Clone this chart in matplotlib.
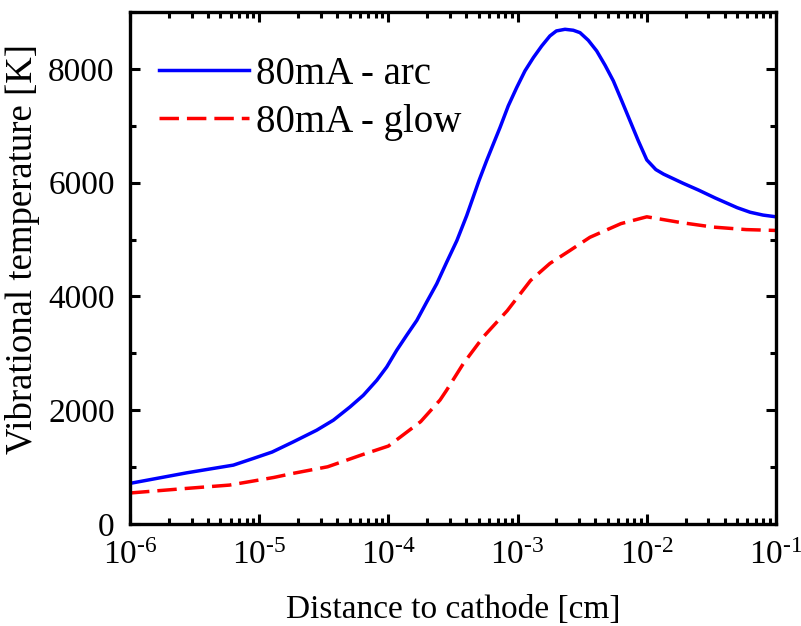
import numpy as np
import matplotlib
matplotlib.use("Agg")
import matplotlib.pyplot as plt
from matplotlib.ticker import LogLocator, MultipleLocator, FixedLocator, FixedFormatter

plt.rcParams['font.family'] = ['Liberation Serif', 'DejaVu Serif']
plt.rcParams['mathtext.fontset'] = 'custom'
plt.rcParams['mathtext.rm'] = 'Liberation Serif'
plt.rcParams['mathtext.it'] = 'Liberation Serif:italic'

# Distance to cathode (log10 of cm) and vibrational temperature (K)
arc_logx = [-6.0, -5.56, -5.2, -5.046, -4.9, -4.736, -4.555, -4.426, -4.297,
            -4.194, -4.09, -4.013, -3.936, -3.859, -3.78, -3.704, -3.626,
            -3.549, -3.47, -3.394, -3.299, -3.24, -3.188, -3.136, -3.072,
            -3.007, -2.943, -2.878, -2.813, -2.75, -2.70, -2.633, -2.569,
            -2.517, -2.453, -2.388, -2.323, -2.259, -2.194, -2.13, -2.066,
            -2.0, -1.93, -1.87, -1.72, -1.6, -1.47, -1.3, -1.2, -1.1, -1.0]
arc_temp = [714, 900, 1035, 1152, 1265, 1444, 1649, 1825, 2058,
            2263, 2526, 2760, 3053, 3316, 3579, 3900, 4222,
            4602, 4982, 5421, 6035, 6386, 6679, 6970, 7351,
            7672, 7965, 8198, 8404, 8579, 8667, 8696, 8679,
            8637, 8503, 8316, 8064, 7789, 7439, 7088, 6737,
            6400, 6230, 6150, 5990, 5870, 5730, 5560, 5480, 5430, 5400]

glow_logx = [-6.0, -5.56, -5.23, -5.05, -4.885, -4.74, -4.47, -4.2, -4.0,
             -3.75, -3.6, -3.55, -3.42, -3.265, -3.08, -2.9, -2.75, -2.6,
             -2.44, -2.2, -2.0, -1.74, -1.49, -1.23, -1.0]
glow_temp = [545, 626, 684, 754, 819, 889, 1006, 1220, 1370,
             1800, 2180, 2350, 2820, 3290, 3750, 4280, 4580, 4800,
             5040, 5280, 5400, 5300, 5220, 5175, 5160]

decades = [-6, -5, -4, -3, -2, -1]
decade_labels = [r'$\mathregular{10^{\text{-}%d}}$' % abs(d) for d in decades]

arc_x = 10.0 ** np.array(arc_logx)
glow_x = 10.0 ** np.array(glow_logx)

fig = plt.figure(figsize=(8.01, 6.26), dpi=100)
ax = fig.add_axes([130 / 801, 102 / 626, 646 / 801, 512 / 626])

ax.plot(arc_x, arc_temp, color='#0000ff', lw=2.5, label='80mA - arc',
        solid_joinstyle='round')
ax.plot(glow_x, glow_temp, color='#ff0000', lw=2.5, dashes=(5.6, 2.3),
        label='80mA - glow')

ax.set_xscale('log')
ax.set_xlim(1e-6, 1e-1)
ax.set_ylim(0, 9000)
ax.xaxis.set_major_locator(FixedLocator([10.0 ** d for d in decades]))
ax.xaxis.set_major_formatter(FixedFormatter(decade_labels))
ax.xaxis.set_minor_locator(LogLocator(base=10, subs=np.arange(2, 10), numticks=20))
ax.yaxis.set_major_locator(MultipleLocator(2000))
ax.yaxis.set_minor_locator(MultipleLocator(1000))

for s in ax.spines.values():
    s.set_linewidth(2.4)
ax.tick_params(which='both', direction='in', top=True, right=True, width=2.2,
               labelsize=24)
ax.tick_params(which='major', length=7.5)
ax.tick_params(which='minor', length=4)
ax.tick_params(axis='x', which='major', pad=12)
ax.tick_params(axis='y', which='major', pad=11)

ax.set_xlabel('Distance to cathode [cm]', fontsize=24)
ax.set_ylabel('Vibrational temperature [K]', fontsize=26.5)
ax.xaxis.set_label_coords(0.5, -0.137)
ax.yaxis.set_label_coords(-0.14, 0.537)

ax.legend(loc='upper left', frameon=False, fontsize=28, handlelength=2.3,
          handletextpad=0.2, borderaxespad=0.0, labelspacing=0.28,
          bbox_to_anchor=(0.021, 0.945))

fig.savefig('out.png', dpi=100)
